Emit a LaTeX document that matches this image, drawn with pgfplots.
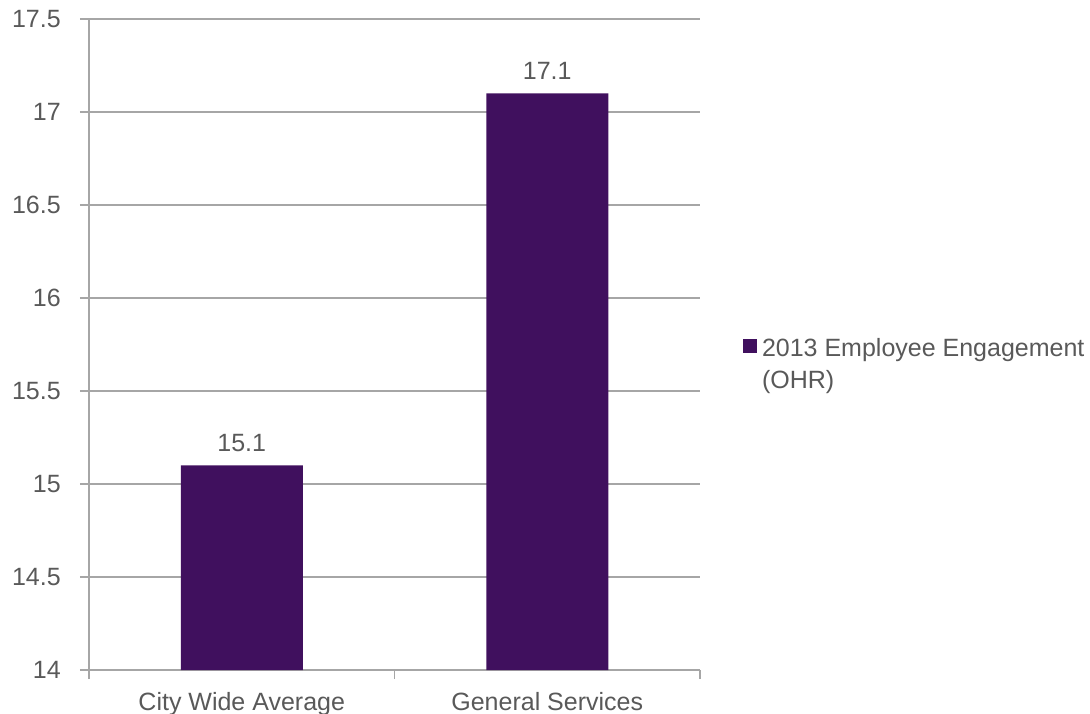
\documentclass[border=0pt]{standalone}
\usepackage{fontspec}
\setmainfont{Liberation Sans}
\usepackage{pgfplots}
\pgfplotsset{compat=1.18}
\definecolor{barcol}{HTML}{40105E}
\definecolor{txtgray}{HTML}{595959}
\definecolor{linegray}{HTML}{A6A6A6}
\begin{document}
\fontsize{12.5pt}{15pt}\selectfont
\begin{tikzpicture}
\begin{axis}[
  scale only axis,
  width=305.5pt, height=325.5pt,
  xmin=-0.5, xmax=1.5,
  ymin=14, ymax=17.5,
  ytick={14,14.5,15,15.5,16,16.5,17,17.5},
  xtick={-0.5,0.5,1.5},
  xticklabels={},
  extra x ticks={0,1},
  extra x tick labels={City Wide Average, General Services},
  extra x tick style={major tick length=0pt, tick style={draw=none}},
  axis lines*=left,
  axis line style={linegray, line width=0.8pt},
  ymajorgrids,
  grid style={linegray, line width=0.8pt},
  tick align=outside,
  major tick length=4.5pt,
  tick style={linegray, line width=0.8pt},
  tick label style={font=\fontsize{12.5pt}{15pt}\selectfont, text=txtgray},
  yticklabel style={xshift=-5.3pt},
  xticklabel style={yshift=-6.8pt},
  /pgf/number format/assume math mode=true,
  ybar, bar width=61pt,
  nodes near coords,
  every node near coord/.append style={font=\fontsize{12.5pt}{15pt}\selectfont, text=txtgray, yshift=2.5pt},
  legend cell align=left,
  legend style={draw=none, fill=none, at={(1.0704,0.4685)}, anchor=west,
    inner sep=0pt, outer sep=0pt, row sep=5pt, column sep=2.5pt,
    font=\fontsize{12.5pt}{15pt}\selectfont, text=txtgray,
    nodes={inner sep=0pt}},
]
\addplot[fill=barcol, draw=none,
  legend image code/.code={\fill[barcol] (0pt,-1.8pt) rectangle (7pt,5.2pt);}]
  coordinates {(0,15.1) (1,17.1)};
\addlegendentry{2013 Employee Engagement}
\addlegendimage{empty legend}
\addlegendentry{(OHR)}
\end{axis}
\pgfresetboundingbox
\path (current axis.south west) ++(-44.5pt,-21.5pt) coordinate (bbA);
\path (current axis.north east) ++(195pt,9.5pt) coordinate (bbB);
\useasboundingbox (bbA) rectangle (bbB);
\end{tikzpicture}
\end{document}
